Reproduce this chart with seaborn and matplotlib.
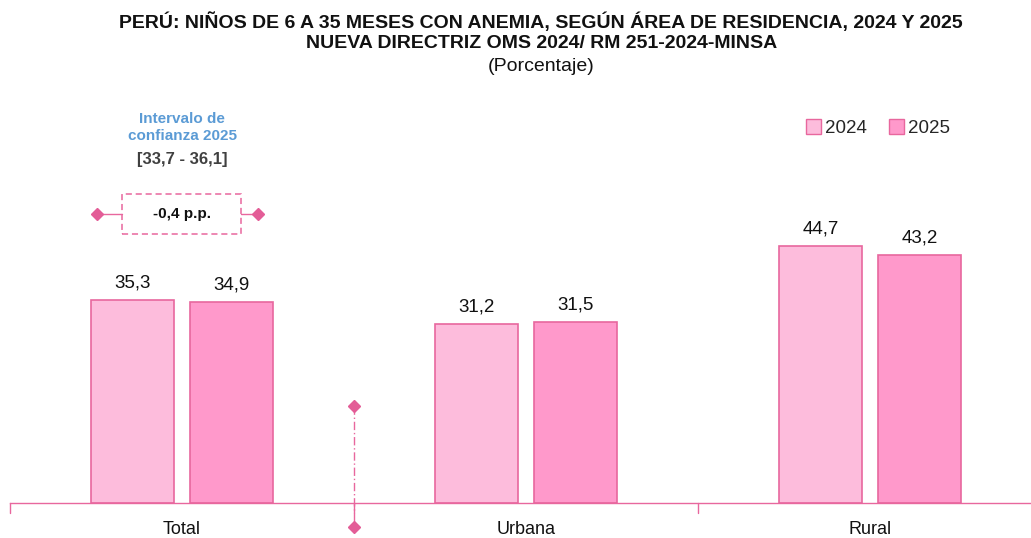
import matplotlib
matplotlib.use("Agg")
import matplotlib.pyplot as plt
import seaborn as sns
import pandas as pd
from matplotlib.patches import Rectangle, Patch

areas = ["Total", "Urbana", "Rural"]
years = ["2024", "2025"]
v2024 = [35.3, 31.2, 44.7]
v2025 = [34.9, 31.5, 43.2]
diff_label = "-0,4 p.p."
ci_label = "[33,7 - 36,1]"

df = pd.DataFrame({
    "area": areas * 2,
    "year": [years[0]] * 3 + [years[1]] * 3,
    "valor": v2024 + v2025,
})

sns.set_theme(style="white")
plt.rcParams["font.family"] = ["Liberation Sans", "DejaVu Sans"]

edge = "#E8679E"
colors = {"2024": "#FDBCDC", "2025": "#FF99CB"}

fig = plt.figure(figsize=(10.31, 5.38), dpi=100)
ax = fig.add_axes([10 / 1031, 35 / 538, 1021 / 1031, 420 / 538])

sns.barplot(data=df, x="area", y="valor", hue="year", palette=colors, saturation=1,
            width=0.576, gap=0.17, edgecolor=edge, linewidth=1.2, ax=ax,
            legend=False)

ax.set_xlim(-0.5, 2.468)
ax.set_ylim(0, 420 / 5.75)
ax.set_xlabel("")
ax.set_ylabel("")
ax.set_yticks([])
for s in ["top", "right", "left"]:
    ax.spines[s].set_visible(False)
ax.spines["bottom"].set_color(edge)
ax.spines["bottom"].set_linewidth(1.0)
ax.set_xticks([0, 1, 2])
ax.set_xticklabels(areas, fontsize=13, color="#111111")
ax.tick_params(axis="x", length=0, pad=13)

# separadores de grupo
for xs in [-0.5, 0.5, 1.5]:
    ax.plot([xs, xs], [0, -1.7], color=edge, lw=1.0, clip_on=False)

# linea punteada con rombos entre Total y Urbana
ax.plot([0.5, 0.5], [16.8, -4.2], color=edge, lw=1.0, ls=(0, (6, 2, 1, 2)), clip_on=False)
ax.plot([0.5, 0.5], [16.8, -4.2], ls="none", marker="D", ms=6, color="#E35D97", clip_on=False)

# etiquetas de valores
for cont in ax.containers:
    ax.bar_label(cont, labels=[f"{v:.1f}".replace(".", ",") for v in cont.datavalues],
                 padding=6, fontsize=13.5, color="#111111")

# recuadro de diferencia
box = Rectangle((-0.174, 46.7), 0.346, 7.0, fill=False, ls=(0, (4, 2.5)),
                lw=1.1, edgecolor=edge, clip_on=False)
ax.add_patch(box)
ax.text(0, 50.2, diff_label, ha="center", va="center", fontsize=11, fontweight="bold", color="#111111")
ax.plot([-0.247, -0.174], [50.2, 50.2], color=edge, lw=1.0)
ax.plot([0.172, 0.222], [50.2, 50.2], color=edge, lw=1.0)
ax.plot([-0.247, 0.222], [50.2, 50.2], ls="none", marker="D", ms=6, color="#E35D97")

# intervalo de confianza
ax.text(0, 65.3, "Intervalo de\nconfianza 2025", ha="center", va="center", fontsize=11,
        fontweight="bold", color="#5B9BD5", linespacing=1.3)
ax.text(0, 59.8, ci_label, ha="center", va="center", fontsize=12, fontweight="bold", color="#404040")

# leyenda
handles = [Patch(facecolor=colors[y], edgecolor=edge, label=y) for y in years]
fig.legend(handles=handles, loc="center", bbox_to_anchor=(878 / 1031, 1 - 128 / 538), ncol=2,
           frameon=False, fontsize=13.5, handlelength=0.8, handleheight=0.8,
           handletextpad=0.2, columnspacing=1.2)

# titulo
fig.text(0.525, 1 - 22 / 538, "PERÚ: NIÑOS DE 6 A 35 MESES CON ANEMIA, SEGÚN ÁREA DE RESIDENCIA, 2024 Y 2025",
         ha="center", va="center", fontsize=14, fontweight="bold", color="#111111")
fig.text(0.525, 1 - 44 / 538, "NUEVA DIRECTRIZ OMS 2024/ RM 251-2024-MINSA",
         ha="center", va="center", fontsize=14, fontweight="bold", color="#111111")
fig.text(0.525, 1 - 66 / 538, "(Porcentaje)", ha="center", va="center", fontsize=14, color="#111111")

fig.savefig("out.png", dpi=100)
